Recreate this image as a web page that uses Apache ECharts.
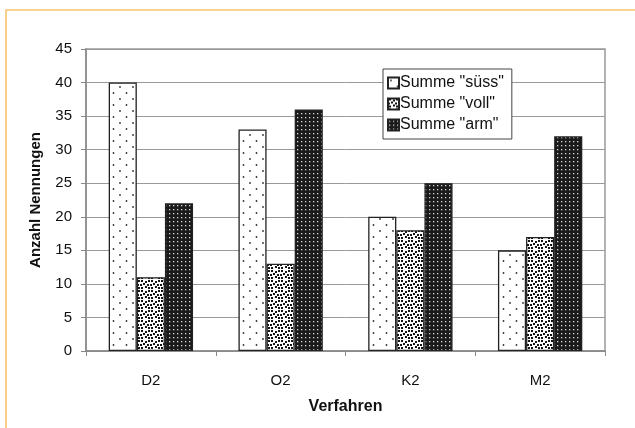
<!DOCTYPE html>
<html>
<head>
<meta charset="utf-8">
<script src="https://cdn.jsdelivr.net/npm/echarts@6/dist/echarts.min.js"></script>
<style>
  html, body { margin: 0; padding: 0; background: #fff; }
  #chart { width: 635px; height: 428px; }
</style>
</head>
<body>
<div id="chart"></div>
<script>
// Categories and counts per taste rating
var categories = ['D2', 'O2', 'K2', 'M2'];
var seriesNames = ['Summe "süss"', 'Summe "voll"', 'Summe "arm"'];
var suess = [40, 33, 20, 15];
var voll = [11, 13, 18, 17];
var arm = [22, 36, 25, 32];
var yTicks = { min: 0, max: 45, step: 5 };

// Tiled fill patterns drawn on small canvases
function tile(w, h, bg, draw) {
  var c = document.createElement('canvas');
  c.width = w; c.height = h;
  var ctx = c.getContext('2d');
  ctx.fillStyle = bg;
  ctx.fillRect(0, 0, w, h);
  draw(ctx);
  return { image: c, repeat: 'repeat' };
}

var patSparseDots = tile(13, 12, '#ffffff', function (ctx) {
  ctx.fillStyle = '#333';
  ctx.beginPath(); ctx.arc(3, 3, 0.9, 0, Math.PI * 2); ctx.fill();
  ctx.beginPath(); ctx.arc(9.5, 9, 0.9, 0, Math.PI * 2); ctx.fill();
});

var patSquares = tile(10, 10, '#ffffff', function (ctx) {
  ctx.fillStyle = '#151515';
  [[1, 0], [5, 1], [8, 0], [3, 3], [7, 4], [0, 4], [1, 7], [5, 6], [8, 7]].forEach(function (p) {
    ctx.fillRect(p[0], p[1], 2, 2);
  });
});

var patDarkDots = tile(4, 4, '#1a1a1a', function (ctx) {
  ctx.fillStyle = '#d8d8d8';
  ctx.fillRect(1, 1, 1.3, 1.3);
});

var patterns = [patSparseDots, patSquares, patDarkDots];
var values = [suess, voll, arm];

var chart = echarts.init(document.getElementById('chart'), null, { renderer: 'canvas' });

var font = '"Liberation Sans", Arial, sans-serif';

var series = seriesNames.map(function (name, i) {
  return {
    name: name,
    type: 'bar',
    data: values[i],
    barGap: '0%',
    barCategoryGap: '35%',
    itemStyle: {
      color: patterns[i],
      borderColor: '#222',
      borderWidth: 1.3
    },
    emphasis: { disabled: true }
  };
});

chart.setOption({
  animation: false,
  backgroundColor: '#ffffff',
  textStyle: { fontFamily: font },
  grid: {
    left: 86, right: 30, top: 49, bottom: 77,
    show: true, borderColor: '#999', borderWidth: 1.5, backgroundColor: 'transparent'
  },
  legend: {
    orient: 'vertical',
    left: 383, top: 69,
    padding: [6, 8, 6, 4],
    itemGap: 5,
    itemWidth: 11, itemHeight: 11,
    icon: 'rect',
    borderColor: '#444', borderWidth: 1,
    backgroundColor: '#ffffff',
    textStyle: { fontSize: 16, color: '#111', fontFamily: font, padding: [0, 0, 0, -4] },
    data: seriesNames
  },
  xAxis: {
    type: 'category',
    data: categories,
    axisLine: { lineStyle: { color: '#888', width: 1.5 } },
    axisTick: { show: true, length: 5, lineStyle: { color: '#888' } },
    axisLabel: { fontSize: 15, color: '#111', margin: 22, fontFamily: font },
    name: 'Verfahren',
    nameLocation: 'middle',
    nameGap: 48,
    nameTextStyle: { fontSize: 16, fontWeight: 'bold', color: '#111', fontFamily: font }
  },
  yAxis: {
    type: 'value',
    min: yTicks.min, max: yTicks.max, interval: yTicks.step,
    axisLine: { show: true, lineStyle: { color: '#888', width: 1.5 } },
    axisTick: { show: true, length: 5, lineStyle: { color: '#888' } },
    axisLabel: { fontSize: 15, color: '#111', margin: 14, fontFamily: font },
    splitLine: { show: true, lineStyle: { color: '#999', width: 1 } },
    name: 'Anzahl Nennungen',
    nameLocation: 'middle',
    nameRotate: 90,
    nameGap: 43,
    nameTextStyle: { fontSize: 15, fontWeight: 'bold', color: '#111', fontFamily: font }
  },
  graphic: [{
    type: 'polyline',
    shape: { points: [[6, 428], [6, 10], [635, 10]] },
    style: { stroke: '#f8c470', lineWidth: 1.6, fill: null },
    silent: true
  }],
  series: series
});
</script>
</body>
</html>
